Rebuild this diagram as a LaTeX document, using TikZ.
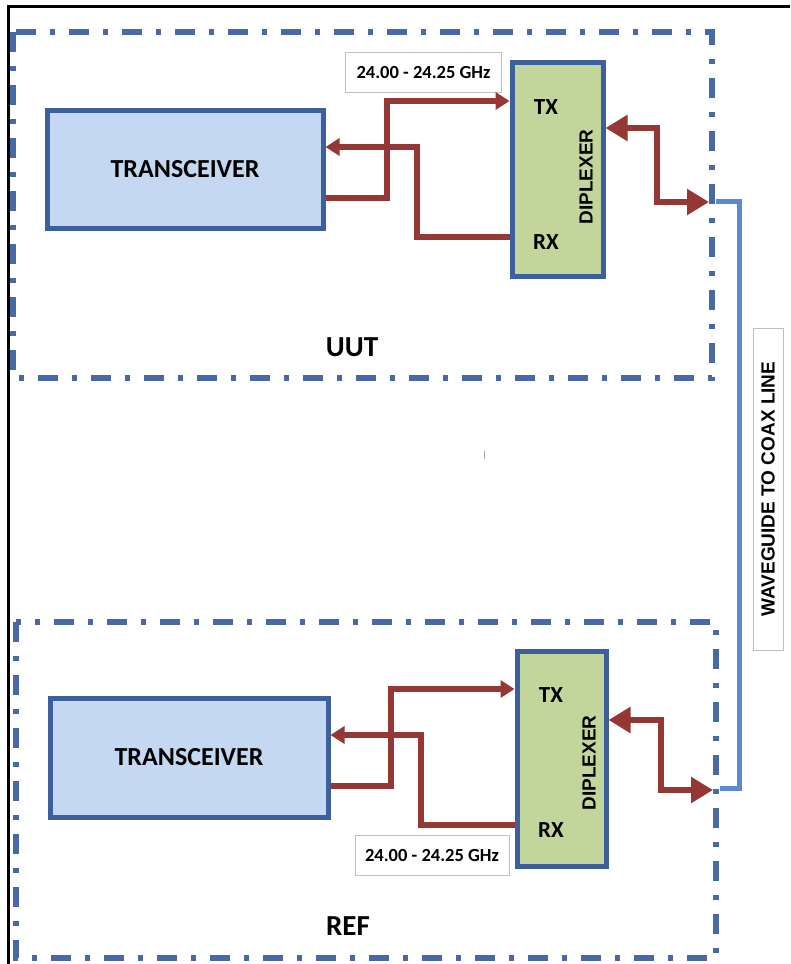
\documentclass[tikz,border=0pt]{standalone}
\usepackage{fontspec}
\setmainfont{Carlito}
\newfontfamily\arialf{Liberation Sans}
\usetikzlibrary{arrows.meta}
\definecolor{dashblue}{HTML}{4868A8}
\definecolor{boxborder}{HTML}{3D5F9E}
\definecolor{transfill}{HTML}{C5D8F1}
\definecolor{dipfill}{HTML}{C2D69B}
\definecolor{sigred}{HTML}{953734}
\definecolor{coaxblue}{HTML}{5A8AD0}
\definecolor{lblgray}{HTML}{BFBFBF}
\tikzset{
  unitbox/.style={draw=dashblue, line width=6pt, dash pattern=on 20pt off 14pt on 5pt off 14pt},
  transbox/.style={draw=boxborder, fill=transfill, line width=5pt, inner sep=0pt,
    font=\fontsize{26}{28}\selectfont\bfseries},
  dipbox/.style={draw=boxborder, fill=dipfill, line width=5pt, inner sep=0pt},
  freqbox/.style={draw=lblgray, fill=white, line width=1pt, inner sep=0pt,
    minimum width=156pt, minimum height=40pt, font=\fontsize{18.5}{20}\selectfont\bfseries},
  sig/.style={draw=sigred, line width=5.5pt, -{Triangle[length=14pt,width=17pt]}},
  bisig/.style={draw=sigred, line width=5.5pt,
    {Triangle[length=22pt,width=25pt]}-{Triangle[length=22pt,width=25pt]}},
  coax/.style={draw=coaxblue, line width=5pt},
  port/.style={font=\fontsize{23}{25}\selectfont\bfseries, inner sep=0pt},
  diptxt/.style={font=\arialf\fontsize{19}{21}\selectfont\bfseries, rotate=90, inner sep=0pt},
  unitlbl/.style={font=\fontsize{29}{31}\selectfont\bfseries, inner sep=0pt},
}
\begin{document}
\begin{tikzpicture}[x=1pt, y=-1pt]
\useasboundingbox (0,0) rectangle (790,964);
\fill[white] (0,0) rectangle (790,964);
% outer frame (left and top)
\draw[black, line width=3pt] (8,964) -- (8,6) -- (790,6);
% unit boxes
\draw[unitbox] (13,32) rectangle (712,378);
\draw[unitbox] (16,622) rectangle (716,958);
% small stray mark
\draw[gray!70, line width=0.8pt] (484,451) -- (484,459);

% ---------- UUT ----------
\node[transbox, minimum width=276pt, minimum height=118pt] (tU) at (185,169) {TRANSCEIVER};
\node[dipbox, minimum width=91pt, minimum height=214pt] (dU) at (557.5,169) {};
\node[port] (txU) at (546,107) {TX};
\node[port] (rxU) at (546,242) {RX};
\node[diptxt] (dtU) at (586,177) {DIPLEXER};
\node[freqbox] (fU) at (423.5,72) {24.00 - 24.25 GHz};
\node[unitlbl] (uut) at (352,347) {UUT};
\coordinate (cU) at (709,202);
\draw[sig] ([yshift=-29pt]tU.east) -| (387,101) -- ([yshift=68pt]dU.west);
\draw[sig] ([yshift=-68pt]dU.west) -| (417,147) -- ([yshift=22pt]tU.east);
\draw[bisig] ([yshift=41pt]dU.east) -| (657,202) -- (cU);

% ---------- REF ----------
\node[transbox, minimum width=278pt, minimum height=119pt] (tR) at (189,757.5) {TRANSCEIVER};
\node[dipbox, minimum width=89pt, minimum height=215pt] (dR) at (561.5,758.5) {};
\node[port] (txR) at (551,695) {TX};
\node[port] (rxR) at (551,830) {RX};
\node[diptxt] (dtR) at (589,763) {DIPLEXER};
\node[freqbox, minimum width=154pt] (fR) at (432,855) {24.00 - 24.25 GHz};
\node[unitlbl] (ref) at (348,926) {REF};
\coordinate (cR) at (713,790);
\draw[sig] ([yshift=-28.5pt]tR.east) -| (391,689) -- ([yshift=69.5pt]dR.west);
\draw[sig] ([yshift=-66.5pt]dR.west) -| (421,735) -- ([yshift=22.5pt]tR.east);
\draw[bisig] ([yshift=38.5pt]dR.east) -| (661,790) -- (cR);

% ---------- coax line ----------
\coordinate (k1) at (716,201);
\coordinate (k2) at (720,788);
\draw[coax] (k1) -- (739,201) -- (739,788) -- (k2);
\node[draw=lblgray, fill=white, line width=1pt, minimum width=30pt, minimum height=322pt, inner sep=0pt] (wg) at (768,489) {};
\node[font=\arialf\fontsize{19}{21}\selectfont\bfseries, rotate=90, inner sep=0pt] (wgt) at (wg.center) {WAVEGUIDE TO COAX LINE};
\end{tikzpicture}
\end{document}
